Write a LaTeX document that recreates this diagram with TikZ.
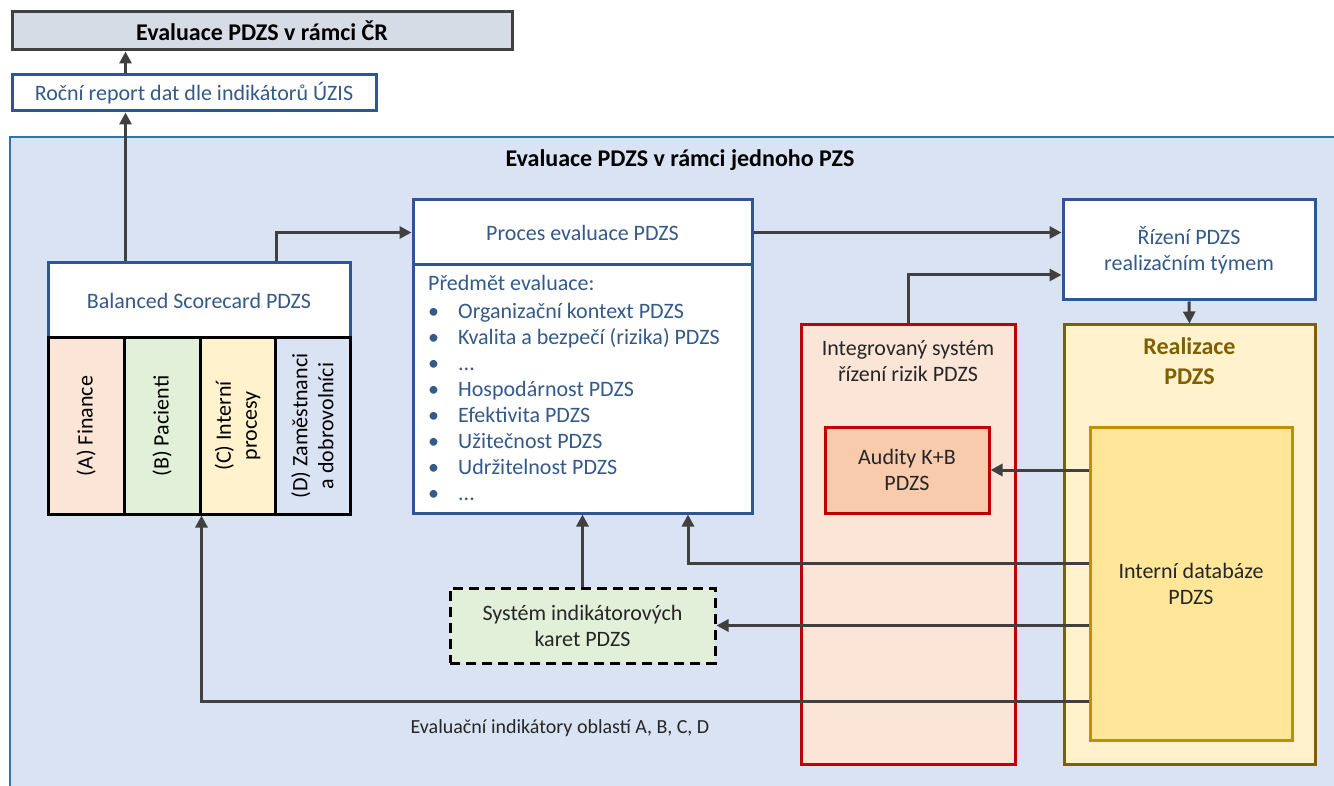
\documentclass[tikz,border=0pt]{standalone}
\usepackage{fontspec}
\setmainfont{Carlito}
\usetikzlibrary{arrows.meta,positioning,calc}
\definecolor{bluetxt}{HTML}{345A8A}
\definecolor{boxblue}{HTML}{2F5597}
\definecolor{topblue}{HTML}{2E75B6}
\definecolor{bgblue}{HTML}{DAE3F3}
\definecolor{linegray}{HTML}{404040}
\definecolor{crgray}{HTML}{D6DCE5}
\definecolor{finA}{HTML}{FBE5D6}
\definecolor{patB}{HTML}{E2F0D9}
\definecolor{proC}{HTML}{FFF2CC}
\definecolor{zamD}{HTML}{DAE3F3}
\definecolor{riskred}{HTML}{C00000}
\definecolor{auditfill}{HTML}{F8CBAD}
\definecolor{realgold}{HTML}{7F6000}
\definecolor{dbgold}{HTML}{BF9000}
\definecolor{dbfill}{HTML}{FFE699}
\definecolor{darktxt}{HTML}{262626}

\begin{document}
\begin{tikzpicture}[x=1pt,y=-1pt,
  font=\fontsize{22}{26}\selectfont,
  box/.style={draw=boxblue,line width=3pt,fill=white,text=bluetxt,align=center,inner sep=0pt},
  col/.style={draw=black,line width=3pt,minimum height=176pt,inner sep=0pt},
  arr/.style={draw=linegray,line width=3pt,-{Triangle[length=12pt,width=12pt]}}]
\useasboundingbox (0,0) rectangle (1334,786);

%pozadi PZS
\fill[bgblue] (10,137) rectangle (1334,786);
\draw[topblue,line width=2pt] (10,786) -- (10,137) -- (1334,137);
\node[font=\fontsize{24}{28}\selectfont\bfseries] (pzs) at (680,160) {Evaluace PDZS v rámci jednoho PZS};

%horni boxy
\node[draw=linegray,line width=3pt,fill=crgray,minimum width=500pt,minimum height=38pt,inner sep=0pt,
  font=\fontsize{24}{28}\selectfont\bfseries] (cr) at (262,31) {Evaluace PDZS v rámci ČR};
\node[box,minimum width=364pt,minimum height=36pt] (rocni) at (194,93) {Roční report dat dle indikátorů ÚZIS};

%balanced scorecard
\node[box,minimum width=302pt,minimum height=75pt] (bsc) at (199,300.5) {Balanced Scorecard PDZS};
\node[col,fill=finA,minimum width=76pt] (colA) at (86,426) {};
\node[col,fill=patB,minimum width=76pt] (colB) at (162,426) {};
\node[col,fill=proC,minimum width=75pt] (colC) at (237.5,426) {};
\node[col,fill=zamD,minimum width=75pt] (colD) at (312.5,426) {};
\node[rotate=90,align=center] at (colA) {(A) Finance};
\node[rotate=90,align=center] at (colB) {(B) Pacienti};
\node[rotate=90,align=center] at (colC) {(C) Interní\\procesy};
\node[rotate=90,align=center] at (colD) {(D) Zaměstnanci\\a dobrovolníci};

%proces evaluace
\node[box,minimum width=339pt,minimum height=65pt] (prochead) at (582.5,232.5) {Proces evaluace PDZS};
\node[box,minimum width=339pt,minimum height=248pt] (procbody) at (582.5,389) {};
\node[anchor=north west,inner sep=0pt,align=left,text=bluetxt] (predmet) at (428,275) {Předmět evaluace:\\[2pt]
  \makebox[30pt][l]{•}Organizační kontext PDZS\\
  \makebox[30pt][l]{•}Kvalita a bezpečí (rizika) PDZS\\
  \makebox[30pt][l]{•}...\\
  \makebox[30pt][l]{•}Hospodárnost PDZS\\
  \makebox[30pt][l]{•}Efektivita PDZS\\
  \makebox[30pt][l]{•}Užitečnost PDZS\\
  \makebox[30pt][l]{•}Udržitelnost PDZS\\
  \makebox[30pt][l]{•}...};

%rizeni, ISR, realizace
\node[box,minimum width=252pt,minimum height=100pt] (rizeni) at (1189,250) {Řízení PDZS\\realizačním týmem};
\node[draw=riskred,line width=3pt,fill=finA,minimum width=214pt,minimum height=439pt,inner sep=0pt] (isr) at (908,544.5) {};
\node[text=darktxt,align=center,below=13pt of isr.north] (isrtext) {Integrovaný systém\\řízení rizik PDZS};
\node[draw=riskred,line width=3pt,fill=auditfill,minimum width=164pt,minimum height=86pt,inner sep=0pt,
  text=darktxt,align=center] (audit) at (907,470) {Audity K+B\\PDZS};
\node[draw=realgold,line width=3pt,fill=proC,minimum width=251pt,minimum height=439pt,inner sep=0pt] (real) at (1189.5,544.5) {};
\node[text=realgold,align=center,font=\fontsize{24}{30}\selectfont\bfseries,below=11pt of real.north] (realtext) {Realizace\\PDZS};
\node[draw=dbgold,line width=3pt,fill=dbfill,minimum width=202pt,minimum height=313pt,inner sep=0pt,
  text=darktxt,align=center] (db) at (1191,583.5) {Interní databáze\\PDZS};

%karty
\node[draw=black,dash pattern=on 10pt off 6pt,line width=3pt,fill=patB,minimum width=265pt,minimum height=75pt,
  inner sep=0pt,text=darktxt,align=center] (karty) at (582.5,625.5) {Systém indikátorových\\karet PDZS};

%sipky
\draw[arr] (bsc.north -| colA.east) -- (rocni.south -| colA.east);
\draw[arr] (rocni.north -| colA.east) -- (cr.south -| colA.east);
\draw[arr] (bsc.north -| colC.east) |- (prochead.west);
\draw[arr] (prochead.east) -- (prochead.east -| rizeni.west);
\draw[arr] (isr.north) |- ([yshift=-25pt]rizeni.west);
\draw[arr] (rizeni.south) -- (real.north);
\draw[arr] (db.west |- audit.east) -- (audit.east);
\draw[arr] ([yshift=20.5pt]db.west) -| ([xshift=105.5pt]procbody.south);
\draw[arr] (db.west |- karty.east) -- (karty.east);
\draw[arr] ([yshift=-117.5pt]db.west) -| (colB.south east);
\draw[arr] (karty.north) -- (karty.north |- procbody.south);
\node[text=darktxt,font=\fontsize{20}{24}\selectfont] (oblasti) at (560,728) {Evaluační indikátory oblastí A, B, C, D};
\end{tikzpicture}
\end{document}
